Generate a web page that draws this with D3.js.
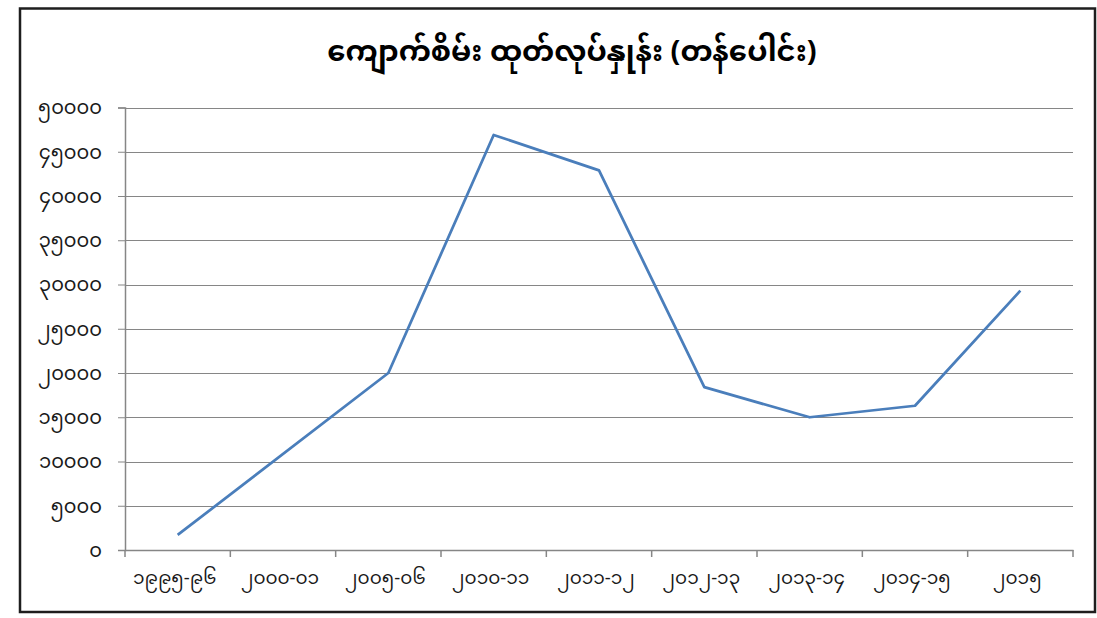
<!DOCTYPE html>
<html>
<head>
<meta charset="utf-8">
<script src="https://cdn.jsdelivr.net/npm/d3@7"></script>
<style>
  html, body { margin: 0; padding: 0; background: #fff; }
  svg { display: block; }
  text { font-family: "Noto Sans Myanmar", "Myanmar Text", "Padauk", "Noto Sans", sans-serif; }
</style>
</head>
<body>
<svg id="chart" width="1097" height="618"></svg>
<script>
const title = "ကျောက်စိမ်း ထုတ်လုပ်နှုန်း (တန်ပေါင်း)";
const categories = ["၁၉၉၅-၉၆", "၂၀၀၀-၀၁", "၂၀၀၅-၀၆", "၂၀၁၀-၁၁", "၂၀၁၁-၁၂", "၂၀၁၂-၁၃", "၂၀၁၃-၁၄", "၂၀၁၄-၁၅", "၂၀၁၅"];
const values = [1700, null, 20000, 46900, 42900, 18400, 15000, 16300, 29300];
const yTicks = [0, 5000, 10000, 15000, 20000, 25000, 30000, 35000, 40000, 45000, 50000];
const yTickLabels = ["၀", "၅၀၀၀", "၁၀၀၀၀", "၁၅၀၀၀", "၂၀၀၀၀", "၂၅၀၀၀", "၃၀၀၀၀", "၃၅၀၀၀", "၄၀၀၀၀", "၄၅၀၀၀", "၅၀၀၀၀"];

const svg = d3.select("#chart");
const m = { left: 125, right: 1073, top: 107.5, bottom: 550 };

// outer frame
svg.append("rect").attr("x", 20).attr("y", 8.5).attr("width", 1075).attr("height", 603.5)
  .attr("fill", "#fff").attr("stroke", "#1e1e1e").attr("stroke-width", 2.5);

const x = d3.scaleBand().domain(categories).range([m.left, m.right]).padding(0);
const y = d3.scaleLinear().domain([0, 50000]).range([m.bottom, m.top]);

// gridlines
svg.append("g").selectAll("line").data(yTicks.filter(d => d > 0)).join("line")
  .attr("x1", m.left).attr("x2", m.right)
  .attr("y1", d => Math.round(y(d)) + 0.5).attr("y2", d => Math.round(y(d)) + 0.5)
  .attr("stroke", "#868686").attr("stroke-width", 1);

// y axis
const yAxis = d3.axisLeft(y).tickValues(yTicks).tickSize(7).tickPadding(16)
  .tickFormat((d, i) => yTickLabels[i]);
const gy = svg.append("g").attr("transform", `translate(${m.left},0)`).call(yAxis);
gy.select(".domain").attr("stroke", "#868686").attr("stroke-width", 1.5);
gy.selectAll(".tick line").attr("stroke", "#868686").attr("stroke-width", 1);
gy.selectAll(".tick text").attr("font-size", 19.5).attr("fill", "#1a1a1a");

// x axis
const xAxis = d3.axisBottom(x).tickSize(0).tickPadding(21);
const gx = svg.append("g").attr("transform", `translate(0,${m.bottom})`).call(xAxis);
gx.select(".domain").attr("stroke", "#868686").attr("stroke-width", 1.5);
gx.selectAll(".tick text").attr("font-size", 18.5).attr("fill", "#1a1a1a")
  .attr("dx", -3);
// boundary tick marks
const bounds = categories.map(c => x(c)).concat([x(categories[categories.length - 1]) + x.bandwidth()]);
gx.append("g").selectAll("line").data(bounds).join("line")
  .attr("x1", d => d).attr("x2", d => d).attr("y1", 0).attr("y2", 7)
  .attr("stroke", "#868686").attr("stroke-width", 1.5);

// line
const pts = categories.map((c, i) => ({ c, v: values[i] })).filter(d => d.v !== null);
const line = d3.line().x(d => x(d.c) + x.bandwidth() / 2).y(d => y(d.v));
svg.append("path").datum(pts).attr("d", line)
  .attr("fill", "none").attr("stroke", "#4a7ebb").attr("stroke-width", 2.75)
  .attr("stroke-linejoin", "round");

// title
svg.append("text").attr("x", 572).attr("y", 61).attr("text-anchor", "middle")
  .attr("font-size", 29).attr("font-weight", "bold").attr("fill", "#000").text(title);
</script>
</body>
</html>
